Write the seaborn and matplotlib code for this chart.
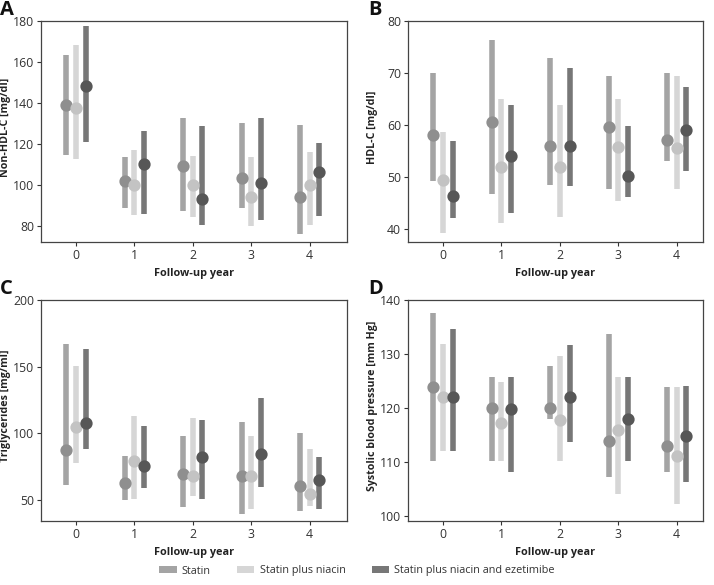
import pandas as pd
import matplotlib.pyplot as plt
import seaborn as sns
from matplotlib.patches import Patch

sns.set_theme(style='ticks')
plt.rcParams['font.family'] = ['Open Sans', 'DejaVu Sans']

# data (median marker, lower and upper end of each bar)
years = [0, 1, 2, 3, 4]
groups = ['Statin', 'Statin plus niacin', 'Statin plus niacin and ezetimibe']

# A: Non-HDL-C
nonhdl_mid = [[139, 102, 109, 103.3, 94],
              [137.4, 100, 100, 94, 100],
              [148, 110, 93, 101, 106.3]]
nonhdl_lo = [[114.3, 88.6, 87.3, 88.6, 76.1],
             [112.5, 85.4, 84.1, 79.8, 80.2],
             [120.8, 85.9, 80.3, 82.9, 84.5]]
nonhdl_hi = [[163.4, 113.5, 132.8, 130.2, 129.3],
             [168.3, 117.2, 114.1, 113.5, 116.1],
             [177.6, 126.2, 128.5, 132.8, 120.5]]

# B: HDL-C
hdl_mid = [[58.1, 60.6, 56, 59.6, 57.2],
           [49.4, 52, 52, 55.7, 55.5],
           [46.3, 54.1, 56, 50.1, 59]]
hdl_lo = [[49.3, 46.8, 48.4, 47.7, 53.1],
          [39.3, 41.2, 42.3, 45.3, 47.7],
          [42.2, 43.1, 48.2, 46.2, 51.1]]
hdl_hi = [[70, 76.3, 72.8, 69.4, 70],
          [58.7, 65, 63.8, 65, 69.4],
          [56.9, 63.8, 71, 59.9, 67.4]]

# C: Triglycerides
tg_mid = [[87.3, 62.5, 69.5, 68, 60],
          [104.3, 79.3, 68, 68, 54.5],
          [107.5, 75.5, 82, 84.3, 64.5]]
tg_lo = [[60.8, 49.8, 44.3, 39.5, 41.5],
         [77.5, 50.5, 52.5, 43.3, 45.5],
         [88, 59, 50.5, 59.8, 43]]
tg_hi = [[167.3, 82.5, 98, 108, 100.3],
         [150.5, 112.8, 111, 98, 87.8],
         [163.3, 105, 109.8, 126.5, 81.8]]

# D: Systolic blood pressure
sbp_mid = [[123.9, 120, 120, 113.9, 112.9],
           [122, 117.1, 117.8, 115.9, 111],
           [122, 119.8, 122, 118, 114.8]]
sbp_lo = [[110.2, 110.1, 117.9, 107.1, 108],
          [112, 110.1, 110.2, 104, 102.2],
          [112, 108, 113.6, 110.1, 106.2]]
sbp_hi = [[137.6, 125.8, 127.8, 133.7, 123.8],
          [131.8, 124.7, 129.7, 125.7, 123.8],
          [134.6, 125.8, 131.7, 125.7, 124]]

bar_colors = ['#a4a4a4', '#d6d6d6', '#777777']
dot_colors = ['#8f8f8f', '#c3c3c3', '#575757']


def long_table(mid, lo, hi):
    rows = []
    for g, name in enumerate(groups):
        for i, yr in enumerate(years):
            for v in (lo[g][i], mid[g][i], hi[g][i]):
                rows.append({'year': yr, 'group': name, 'value': v})
    return pd.DataFrame(rows)


# letter, table, y label, ylim, yticks, xlim, axes box in px (left, top, w, h)
panels = [
    ('A', long_table(nonhdl_mid, nonhdl_lo, nonhdl_hi), 'Non-HDL-C [mg/dl]',
     (72, 180), [80, 100, 120, 140, 160, 180], (-0.6, 4.64), [41, 21, 306, 221]),
    ('B', long_table(hdl_mid, hdl_lo, hdl_hi), 'HDL-C [mg/dl]',
     (37.5, 80), [40, 50, 60, 70, 80], (-0.6, 4.45), [408, 21, 295, 221]),
    ('C', long_table(tg_mid, tg_lo, tg_hi), 'Triglycerides [mg/ml]',
     (34, 200), [50, 100, 150, 200], (-0.6, 4.64), [41, 300, 306, 221]),
    ('D', long_table(sbp_mid, sbp_lo, sbp_hi), 'Systolic blood pressure [mm Hg]',
     (99, 140), [100, 110, 120, 130, 140], (-0.6, 4.45), [408, 300, 295, 221]),
]

W, H = 714, 585
fig = plt.figure(figsize=(W / 100, H / 100), dpi=100)

for letter, df, ylab, ylim, yticks, xlim, (px, py, pw, ph) in panels:
    ax = fig.add_axes([px / W, (H - py - ph) / H, pw / W, ph / H])
    # bars: median of (lo, mid, hi) = mid, 100% interval = lo..hi
    sns.pointplot(data=df, x='year', y='value', hue='group', hue_order=groups,
                  palette=bar_colors, estimator='median', errorbar=('pi', 100),
                  dodge=0.33, linestyle='none', markersize=0, legend=False,
                  err_kws={'linewidth': 4, 'solid_capstyle': 'butt'}, ax=ax)
    sns.pointplot(data=df, x='year', y='value', hue='group', hue_order=groups,
                  palette=dot_colors, estimator='median', errorbar=None,
                  dodge=0.33, linestyle='none', markers='o', markersize=6.8,
                  legend=False, ax=ax)
    ax.set_xlim(*xlim)
    ax.set_ylim(*ylim)
    ax.set_yticks(yticks)
    ax.set_xlabel('Follow-up year', fontsize=7.8, fontweight='bold', color='#222222')
    ax.set_ylabel(ylab, fontsize=7.7, fontweight='bold', color='#222222')
    ax.xaxis.set_label_coords(0.5, -0.118)
    left_px = 11 if px < 100 else 378
    ax.yaxis.set_label_coords((left_px - px) / pw, 0.52)
    ax.tick_params(labelsize=8.8, colors='#333333', length=3, width=0.8, pad=2)
    for s in ax.spines.values():
        s.set_color('#444444')
        s.set_linewidth(0.9)
    lx = 0 if px < 100 else 368
    fig.text(lx / W, 1 - (py - 6) / H, letter, fontsize=14.5, fontweight='bold',
             va='baseline', ha='left', color='#111111')

handles = [Patch(facecolor=c, edgecolor='none') for c in bar_colors]
fig.legend(handles, groups, loc='center', bbox_to_anchor=(0.5, 14 / H), ncol=3,
           frameon=False, fontsize=7.8, handlelength=1.6, handleheight=0.6,
           handletextpad=0.5, columnspacing=2.4, labelcolor='#333333')

fig.savefig('out.png', dpi=100)
